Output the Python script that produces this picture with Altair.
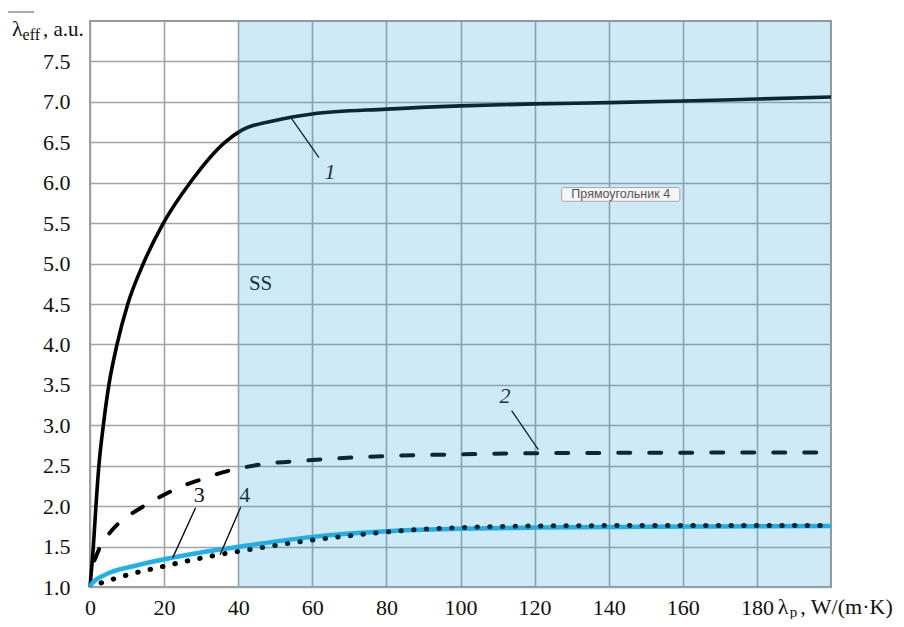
import altair as alt
import pandas as pd

# ---- data ----
x1 = [0, 0.9, 1.6, 2.4, 3.6, 5.1, 7.3, 10.2, 14.4, 19.8, 27, 36.4, 41, 50, 60, 80, 100, 120, 140, 160, 180, 200]
y1 = [1.0, 1.5, 2.0, 2.5, 3.0, 3.5, 4.0, 4.5, 5.0, 5.5, 6.0, 6.5, 6.65, 6.77, 6.85, 6.91, 6.95, 6.975, 6.99, 7.01, 7.035, 7.06]

x2 = [1.2, 3, 5, 8, 12, 16, 20, 25, 30, 36, 44, 60, 80, 100, 120, 150, 200]
y2 = [1.33, 1.52, 1.65, 1.8, 1.93, 2.04, 2.14, 2.25, 2.33, 2.42, 2.5, 2.57, 2.62, 2.64, 2.655, 2.66, 2.665]

x3 = [0, 0.5, 4, 12, 22, 34.5, 42, 60, 80, 100, 120, 150, 200]
y3 = [1.0, 1.04, 1.15, 1.26, 1.36, 1.46, 1.51, 1.62, 1.69, 1.72, 1.735, 1.745, 1.756]

x4 = [3.0, 9.4, 19.3, 29.2, 36, 40, 49.5, 60, 69.3, 80, 90, 100, 120, 150, 200]
y4 = [1.05, 1.14, 1.25, 1.35, 1.41, 1.44, 1.51, 1.58, 1.63, 1.68, 1.715, 1.735, 1.755, 1.76, 1.76]

x_ticks = [0, 20, 40, 60, 80, 100, 120, 140, 160, 180]
y_ticks = [1.0, 1.5, 2.0, 2.5, 3.0, 3.5, 4.0, 4.5, 5.0, 5.5, 6.0, 6.5, 7.0, 7.5]

ss_x = [40, 200]
ss_y = [1.0, 8.0]

lbl_text = ["1", "2", "3", "4"]
lbl_x = [64.8, 112, 29.5, 41.8]
lbl_y = [6.13, 3.36, 2.14, 2.14]
lbl_italic = ["italic", "italic", "normal", "normal"]
lead_x = [54, 113.8, 28.5, 40.7]
lead_y = [6.82, 3.18, 1.98, 1.99]
lead_x2 = [61.8, 121, 22.3, 35.1]
lead_y2 = [6.31, 2.70, 1.36, 1.40]

SERIF = "Liberation Serif"
xs = alt.Scale(domain=[0, 200], nice=False, zero=False)
ys = alt.Scale(domain=[1, 8], nice=False, zero=False)

X = lambda f: alt.X(f, scale=xs, title=None)
Y = lambda f: alt.Y(f, scale=ys, title=None)

def df(x, y):
    return pd.DataFrame({"x": x, "y": y})

c1 = alt.Chart(df(x1, y1)).mark_line(
    color="black", strokeWidth=3.6, interpolate="monotone"
).encode(
    x=alt.X("x:Q", scale=xs, title=None, axis=alt.Axis(values=x_ticks)),
    y=alt.Y("y:Q", scale=ys, title=None, axis=alt.Axis(values=y_ticks, format=".1f")),
)

c2 = alt.Chart(df(x2, y2)).mark_line(
    color="black", strokeWidth=4, strokeDash=[12, 19], strokeCap="round", interpolate="monotone"
).encode(x=X("x:Q"), y=Y("y:Q"))
c3 = alt.Chart(df(x3, y3)).mark_line(
    color="#1cb2ea", strokeWidth=4.5, interpolate="monotone"
).encode(x=X("x:Q"), y=Y("y:Q"))
c4 = alt.Chart(df(x4, y4)).mark_line(
    color="black", strokeWidth=5, strokeDash=[0.5, 12.2], strokeCap="round", interpolate="monotone"
).encode(x=X("x:Q"), y=Y("y:Q"))

lab_df = pd.DataFrame({"t": lbl_text, "x": lbl_x, "y": lbl_y, "st": lbl_italic,
                       "lx": lead_x, "ly": lead_y, "lx2": lead_x2, "ly2": lead_y2})
leaders = alt.Chart(lab_df).mark_rule(color="black", strokeWidth=1.3).encode(
    x=X("lx:Q"), y=Y("ly:Q"), x2="lx2:Q", y2="ly2:Q")
labels_it = alt.Chart(lab_df[lab_df.st == "italic"]).mark_text(
    font=SERIF, fontSize=22, fontStyle="italic", color="#111", baseline="middle").encode(
    x=X("x:Q"), y=Y("y:Q"), text="t:N")
labels_up = alt.Chart(lab_df[lab_df.st == "normal"]).mark_text(
    font=SERIF, fontSize=22, color="#111", baseline="middle").encode(
    x=X("x:Q"), y=Y("y:Q"), text="t:N")

ss_text = alt.Chart(pd.DataFrame({"x": [42.9], "y": [4.75], "t": ["SS"]})).mark_text(
    font=SERIF, fontSize=21, color="#111", align="left", baseline="middle").encode(
    x=X("x:Q"), y=Y("y:Q"), text="t:N")

overlay = alt.Chart(pd.DataFrame({"x": [ss_x[0]], "x2": [ss_x[1]], "y": [ss_y[0]], "y2": [ss_y[1]]})).mark_rect(
    color="#2aa6d9", opacity=0.235).encode(
    x=X("x:Q"), x2="x2:Q", y=Y("y:Q"), y2="y2:Q")

box = alt.Chart(pd.DataFrame({"x": [127.3], "x2": [159.2], "y": [5.77], "y2": [5.94]})).mark_rect(
    fill="#f6f6f6", stroke="#a8a8a8", strokeWidth=1, cornerRadius=2).encode(
    x=X("x:Q"), x2="x2:Q", y=Y("y:Q"), y2="y2:Q")
box_text = alt.Chart(pd.DataFrame({"x": [143.25], "y": [5.855], "t": ["Прямоугольник 4"]})).mark_text(
    font="Liberation Sans", fontSize=12.5, color="#555", baseline="middle").encode(
    x=X("x:Q"), y=Y("y:Q"), text="t:N")

# axis titles built from pieces (subscripts, overline)
ttl = pd.DataFrame({
    "t": ["λ", "eff", ", a.u.", "λ", "p", ", W/(m·K)"],
    "x": [-21.05, -18.2, -12.7, 185.6, 188.9, 191.7],
    "y": [7.814, 7.765, 7.814, 0.661, 0.624, 0.661],
    "s": [22, 16, 21, 22, 15, 22],
})
titles = alt.Chart(ttl).mark_text(font=SERIF, color="#111", align="left", baseline="alphabetic").encode(
    x=X("x:Q"), y=Y("y:Q"), text="t:N",
    size=alt.Size("s:Q", scale=None, legend=None))
overline = alt.Chart(pd.DataFrame({"x": [-22.1], "x2": [-15.1], "y": [8.111]})).mark_rule(
    color="#555", strokeWidth=1).encode(
    x=X("x:Q"), x2="x2:Q", y=Y("y:Q"))

chart = alt.layer(
    c1, c2, c3, c4, leaders, labels_it, labels_up, ss_text, overlay, box, box_text, titles, overline
).properties(
    width=741, height=566,
    autosize=alt.AutoSizeParams(type="none"),
    padding={"left": 82, "top": 13, "right": 65, "bottom": 32},
).configure_view(
    stroke="#9a9a9a", strokeWidth=2
).configure_axis(
    ticks=False, domain=False, labelFont=SERIF, labelFontSize=22, labelColor="#111",
    gridColor="#a3a3a3", gridWidth=1.6, labelFlush=False
).configure_axisX(labelPadding=10).configure_axisY(labelPadding=20)

chart.save("out.html", embed_options={"renderer": "svg", "actions": False})
